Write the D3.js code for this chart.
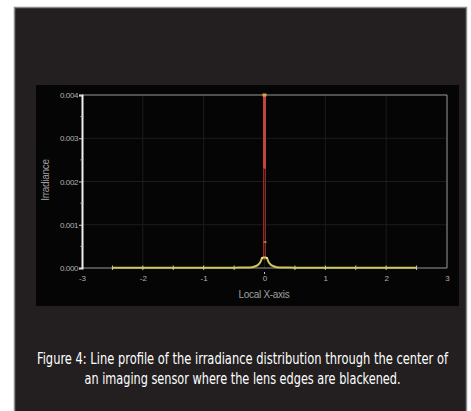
<!DOCTYPE html>
<html>
<head>
<meta charset="utf-8">
<script src="https://cdn.jsdelivr.net/npm/d3@7"></script>
<style>
  body { margin: 0; background: #fff; }
  svg { display: block; }
</style>
</head>
<body>
<script>
// profile (Local X-axis vs irradiance)
const profileX = [-2.5, -2, -1.5, -1, -0.5, -0.3, -0.2, -0.15, -0.1, -0.06, -0.04, -0.02,
                  0.02, 0.04, 0.06, 0.1, 0.15, 0.2, 0.3, 0.5, 1, 1.5, 2, 2.5];
const profileY = [0.000005, 0.000005, 0.000005, 0.000005, 0.000008, 0.00001, 0.00002, 0.00004, 0.00008, 0.00016, 0.00023, 0.00024,
                  0.00024, 0.00023, 0.00016, 0.00008, 0.00004, 0.00002, 0.00001, 0.000008, 0.000005, 0.000005, 0.000005, 0.000005];
const markerX = [-2.5, -2, -1.5, -1, -0.5, 0.5, 1, 1.5, 2, 2.5];

// central spike
const spikeX = [-0.015, -0.015, 0.015, 0.015];
const spikeY = [0.0002, 0.0023, 0.0023, 0.0002];
const peakX = 0, peakY = 0.004, shoulderY = 0.0023;
const midMarker = [0.01, 0.0006];

const xTicks = [-3, -2, -1, 0, 1, 2, 3];
const yTicks = [0, 0.001, 0.002, 0.003, 0.004];
const yMinor = [0.0005, 0.0015, 0.0025, 0.0035];

const captionLines = [
  "Figure 4: Line profile of the irradiance distribution through the center of",
  "an imaging sensor where the lens edges are blackened."
];

const W = 471, H = 411;
const svg = d3.select("body").append("svg").attr("width", W).attr("height", H);

// outer dark panel
svg.append("rect").attr("x", 14.5).attr("y", 7.5).attr("width", 452).attr("height", 410)
  .attr("fill", "#231f20").attr("stroke", "#8a8a8a").attr("stroke-width", 1.5);

// inner black plot panel
svg.append("rect").attr("x", 36).attr("y", 85).attr("width", 423).attr("height", 221)
  .attr("fill", "#050505");

const x = d3.scaleLinear().domain([-3, 3]).range([82, 447]);
const y = d3.scaleLinear().domain([0, 0.004]).range([268, 95]);

// grid
const g = svg.append("g");
g.selectAll(".gx").data(xTicks.slice(1, -1)).enter().append("line")
  .attr("x1", d => x(d)).attr("x2", d => x(d)).attr("y1", y(0)).attr("y2", y(0.004))
  .attr("stroke", "#1b1d1b").attr("stroke-width", 1);
g.selectAll(".gy").data(yTicks.slice(1, -1)).enter().append("line")
  .attr("x1", x(-3)).attr("x2", x(3)).attr("y1", d => y(d)).attr("y2", d => y(d))
  .attr("stroke", "#1b1d1b").attr("stroke-width", 1);

// frame
svg.append("path")
  .attr("d", `M${x(-3)},${y(0.004)}H${x(3)}V${y(0)}H${x(-3)}`)
  .attr("fill", "none").attr("stroke", "#9a9a9a").attr("stroke-width", 1);

// axes
const yAxis = d3.axisLeft(y).tickValues(yTicks).tickFormat(d3.format(".3f")).tickSize(3).tickPadding(1);
const ya = svg.append("g").attr("transform", `translate(${x(-3)},0)`).call(yAxis);
ya.select(".domain").attr("stroke", "#f0f0f0").attr("stroke-width", 2);
ya.selectAll(".tick line").attr("stroke", "#d0d0d0");
ya.selectAll("text").attr("fill", "#b0b0b0").style("font-family", "Liberation Sans, Arial, sans-serif")
  .style("font-size", "8px").style("letter-spacing", "-0.4px");
svg.append("g").selectAll("line").data(yMinor).enter().append("line")
  .attr("x1", x(-3) - 1.5).attr("x2", x(-3) + 1.5).attr("y1", d => y(d)).attr("y2", d => y(d))
  .attr("stroke", "#bbb");

const xAxis = d3.axisBottom(x).tickValues(xTicks).tickFormat(d3.format("d")).tickSize(0).tickPadding(7);
const xa = svg.append("g").attr("transform", `translate(0,${y(0)})`).call(xAxis);
xa.select(".domain").remove();
xa.selectAll("text").attr("fill", "#b0b0b0").style("font-family", "Liberation Sans, Arial, sans-serif")
  .style("font-size", "8px").text(d => d < 0 ? "-" + Math.abs(d) : d);

// axis titles
svg.append("text").attr("x", 264).attr("y", 298).attr("text-anchor", "middle")
  .attr("fill", "#a0a0a0").style("font-family", "Liberation Sans, Arial, sans-serif")
  .style("font-size", "10px").style("letter-spacing", "-0.3px").text("Local X-axis");
svg.append("text").attr("transform", "translate(49,180) rotate(-90)").attr("text-anchor", "middle")
  .attr("fill", "#a0a0a0").style("font-family", "Liberation Sans, Arial, sans-serif")
  .style("font-size", "10px").style("letter-spacing", "-0.3px").text("Irradiance");

// spike
const spikePts = spikeX.map((d, i) => [x(d), y(spikeY[i])]);
svg.append("path").attr("d", d3.line()(spikePts) + "Z")
  .attr("fill", "#3a0c09").attr("stroke", "#a4332a").attr("stroke-width", 0.9);
svg.append("line").attr("x1", x(peakX)).attr("x2", x(peakX)).attr("y1", y(shoulderY)).attr("y2", y(peakY))
  .attr("stroke", "#c2443a").attr("stroke-width", 3);
svg.append("rect").attr("x", x(peakX) - 2).attr("y", y(peakY) - 1.5).attr("width", 4).attr("height", 3)
  .attr("fill", "#e0a050");

// yellow profile
const line = d3.line().x((d, i) => x(d)).y((d, i) => y(profileY[i])).curve(d3.curveMonotoneX);
svg.append("path").datum(profileX).attr("d", line)
  .attr("fill", "none").attr("stroke", "#cfc85a").attr("stroke-width", 2);

// markers along the profile
svg.append("g").selectAll("line").data(markerX).enter().append("line")
  .attr("x1", d => x(d)).attr("x2", d => x(d)).attr("y1", y(0) - 2.5).attr("y2", y(0) + 2)
  .attr("stroke", "#c8c8b0").attr("stroke-width", 1);
svg.append("g").selectAll("circle").data([-0.04, 0.04]).enter().append("circle")
  .attr("cx", d => x(d)).attr("cy", y(0.00023)).attr("r", 1).attr("fill", "#e8e8c0");
svg.append("line").attr("x1", x(midMarker[0]) - 1.5).attr("x2", x(midMarker[0]) + 1.5)
  .attr("y1", y(midMarker[1])).attr("y2", y(midMarker[1])).attr("stroke", "#d8c860").attr("stroke-width", 1);
svg.append("line").attr("x1", x(0)).attr("x2", x(0)).attr("y1", y(0) + 4).attr("y2", y(0) + 6)
  .attr("stroke", "#ccc");

// caption: condensed text, stretched vertically to match the tall figure font
const cap = svg.append("g");
cap.selectAll("text").data(captionLines).enter().append("text")
  .attr("transform", (d, i) => `translate(242.5,${364 + i * 20}) scale(1,1.4)`)
  .attr("text-anchor", "middle")
  .attr("fill", "#ffffff").style("font-family", "DejaVu Sans Condensed, DejaVu Sans, sans-serif")
  .style("font-size", "11px")
  .attr("textLength", (d, i) => i === 0 ? 411 : 316).attr("lengthAdjust", "spacingAndGlyphs")
  .text(d => d);
</script>
</body>
</html>
